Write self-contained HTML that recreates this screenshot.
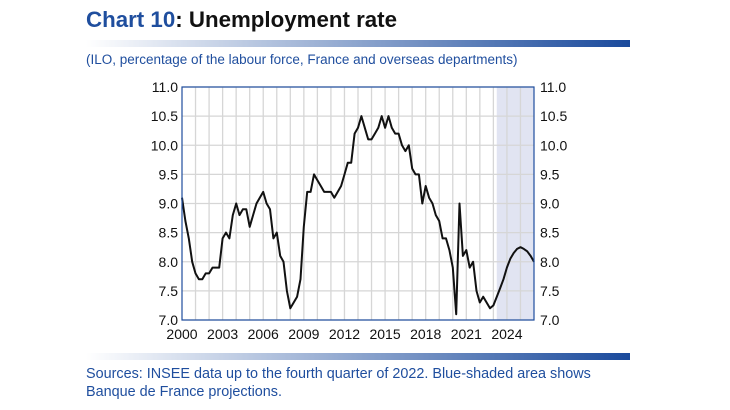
<!DOCTYPE html>
<html><head><meta charset="utf-8"><style>
body{margin:0;background:#fff;width:730px;height:410px;overflow:hidden;font-family:"Liberation Sans",Arial,sans-serif}
.t{position:absolute;white-space:nowrap}
</style></head><body>
<div class="t" style="left:86px;top:7px;font-size:22.3px;font-weight:bold;color:#111"><span style="color:#1f4e9e">Chart 10</span>: Unemployment rate</div>
<div style="position:absolute;left:86px;top:40px;width:544px;height:7px;background:linear-gradient(to right,#fff,#1a4a9c)"></div>
<div class="t" style="left:86px;top:52px;font-size:13.5px;color:#1f4e9e">(ILO, percentage of the labour force, France and overseas departments)</div>
<svg width="730" height="410" style="position:absolute;left:0;top:0">
<g id="grid"></g><path id="line" fill="none" stroke="#111" stroke-width="2" stroke-linejoin="round"/>
<rect x="182" y="87" width="352" height="233" fill="none" stroke="#1f4e9e" stroke-width="1.2"/>
<g id="labels" font-size="14" fill="#111"></g>
</svg>
<div style="position:absolute;left:86px;top:353px;width:544px;height:7px;background:linear-gradient(to right,#fff,#1a4a9c)"></div>
<div class="t" style="left:86px;top:365px;font-size:14.4px;line-height:18px;color:#1f4e9e">Sources: INSEE data up to the fourth quarter of 2022. Blue-shaded area shows<br>Banque de France projections.</div>
<script>
const values=[9.1,8.7,8.4,8.0,7.8,7.7,7.7,7.8,7.8,7.9,7.9,7.9,8.4,8.5,8.4,8.8,9.0,8.8,8.9,8.9,8.6,8.8,9.0,9.1,9.2,9.0,8.9,8.4,8.5,8.1,8.0,7.5,7.2,7.3,7.4,7.7,8.6,9.2,9.2,9.5,9.4,9.3,9.2,9.2,9.2,9.1,9.2,9.3,9.5,9.7,9.7,10.2,10.3,10.5,10.3,10.1,10.1,10.2,10.3,10.5,10.3,10.5,10.3,10.2,10.2,10.0,9.9,10.0,9.6,9.5,9.5,9.0,9.3,9.1,9.0,8.8,8.7,8.4,8.4,8.2,7.9,7.1,9.0,8.1,8.2,7.9,8.0,7.5,7.3,7.4,7.3,7.2,7.25,7.4,7.55,7.7,7.9,8.05,8.15,8.22,8.25,8.22,8.18,8.1,8.0];
const startYear=2000;
const yTicks=[7.0,7.5,8.0,8.5,9.0,9.5,10.0,10.5,11.0];
const xTickYears=[2000,2003,2006,2009,2012,2015,2018,2021,2024];
const projectionStart=2023.25;
const X0=182,X1=534,Y0=320,Y1=87,xmin=2000,xmax=2026,ymin=7,ymax=11;
const xs=t=>X0+(t-xmin)/(xmax-xmin)*(X1-X0);
const ys=v=>Y0-(v-ymin)/(ymax-ymin)*(Y0-Y1);
const NS="http://www.w3.org/2000/svg";
const grid=document.getElementById('grid'),lab=document.getElementById('labels');
function mk(tag,at,parent){const e=document.createElementNS(NS,tag);for(const k in at)e.setAttribute(k,at[k]);parent.appendChild(e);return e;}
const sh=mk('rect',{x:xs(projectionStart),y:Y1,width:X1-xs(projectionStart),height:Y0-Y1,fill:'#e1e4f2'},grid);


for(let y=xmin+1;y<xmax;y++){const l=mk('line',{x1:xs(y),x2:xs(y),y1:Y1,y2:Y0,stroke:'#d6d6d6','stroke-width':1.3},grid);

}
yTicks.forEach(v=>{const l=mk('line',{x1:X0,x2:X1,y1:ys(v),y2:ys(v),stroke:'#d6d6d6','stroke-width':1.3},grid);


const a=mk('text',{x:178,y:ys(v)+5,'text-anchor':'end'},lab);a.textContent=v.toFixed(1);


const b=mk('text',{x:540,y:ys(v)+5},lab);b.textContent=v.toFixed(1);

});
xTickYears.forEach(y=>{const t=mk('text',{x:xs(y),y:339,'text-anchor':'middle'},lab);t.textContent=y;

});
document.getElementById('line').setAttribute('d',values.map((v,i)=>(i?'L':'M')+xs(startYear+i/4).toFixed(1)+' '+ys(v).toFixed(1)).join(' '));
</script>
</body></html>
